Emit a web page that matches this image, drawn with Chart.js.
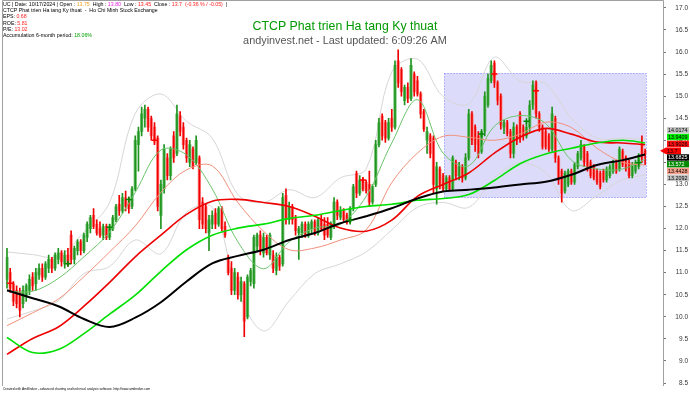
<!DOCTYPE html>
<html>
<head>
<meta charset="utf-8">
<script src="https://cdn.jsdelivr.net/npm/chart.js@4/dist/chart.umd.min.js"></script>
<style>
  html, body { margin: 0; padding: 0; background: #fff; }
  #chart { display: block; }
</style>
</head>
<body>
<canvas id="chart" width="690" height="393"></canvas>
<script>
// ---- DATOS ----
const opens = [
  10.85,11.0,10.75,10.6,10.55,10.3,10.45,10.6,10.9,10.75,
  10.95,11.1,10.9,11.1,11.3,11.1,11.3,11.45,11.2,11.4,
  11.85,11.3,11.5,11.7,11.5,11.8,12.0,12.3,12.1,12.0,
  11.85,12.05,11.8,12.0,12.2,12.55,12.4,12.7,12.6,12.5,
  12.9,13.9,14.2,14.5,14.7,14.5,14.3,14.05,12.3,12.9,
  13.6,13.2,14.1,13.7,14.55,14.3,14.0,13.5,13.8,13.5,
  13.6,12.6,12.5,11.9,12.1,12.35,12.1,12.45,12.05,11.35,
  11.1,10.6,10.9,10.5,10.75,10.0,10.8,10.75,11.6,11.85,
  11.45,11.8,11.4,11.4,11.05,11.35,11.2,12.75,12.2,12.5,
  12.25,11.9,11.9,12.1,11.85,12.0,12.15,11.9,12.2,12.1,
  12.1,11.8,12.05,12.6,12.25,12.4,12.3,12.15,12.45,13.25,
  12.8,13.1,13.05,13.0,12.6,13.0,13.9,14.55,14.4,14.05,
  14.5,14.3,15.8,15.6,14.9,15.2,14.95,15.5,15.35,15.05,
  14.65,14.0,14.1,14.05,12.9,13.35,13.2,12.9,13.15,12.9,
  13.5,13.2,13.4,13.15,13.6,14.6,14.3,14.1,13.75,14.2,
  14.8,15.35,15.75,15.3,15.0,14.3,14.4,14.2,13.7,14.3,
  14.6,14.3,14.1,14.3,14.8,15.3,14.6,14.3,14.2,14.1,
  13.8,14.5,13.6,13.3,12.85,13.0,13.3,13.05,13.4,13.6,
  13.85,13.7,13.5,13.4,13.3,13.25,13.3,13.1,13.2,13.3,
  13.5,13.35,13.75,13.6,13.5,13.2,13.3,13.4,13.95,13.75
];
const highs = [
  11.55,11.1,10.8,10.7,10.65,10.7,10.75,10.95,11.0,11.1,
  11.2,11.2,11.25,11.4,11.35,11.45,11.55,11.5,11.5,11.55,
  11.95,11.6,11.75,11.75,11.9,12.15,12.3,12.45,12.2,12.15,
  12.1,12.1,12.1,12.3,12.55,12.75,12.8,12.85,12.7,12.95,
  14.1,14.3,14.75,14.8,14.75,14.55,14.4,14.1,13.1,13.9,
  13.7,13.85,14.2,14.8,14.65,14.4,14.05,14.0,13.85,14.1,
  13.65,12.7,12.55,12.3,12.4,12.45,12.5,12.5,12.15,11.4,
  11.25,11.1,11.0,10.9,10.8,10.95,11.1,11.85,11.9,11.95,
  11.9,11.85,11.9,11.5,11.45,11.4,12.8,12.9,12.6,12.55,
  12.3,12.05,12.15,12.15,12.15,12.2,12.2,12.25,12.3,12.25,
  12.25,12.15,12.7,12.65,12.5,12.45,12.35,12.5,13.0,13.3,
  13.2,13.15,13.1,13.3,13.0,14.0,14.5,14.6,14.45,14.5,
  14.7,15.8,16.05,15.65,15.25,15.3,15.85,15.55,15.45,15.1,
  14.7,14.3,14.15,14.1,13.5,13.4,13.25,13.2,13.2,13.65,
  13.55,13.5,13.45,13.7,14.7,14.65,14.35,14.2,14.25,15.1,
  15.5,15.8,15.8,15.35,15.05,14.45,14.45,14.25,14.4,14.35,
  14.65,14.35,14.4,14.9,15.35,15.35,14.65,14.35,14.25,14.15,
  14.75,14.55,13.65,13.35,13.3,13.35,13.35,13.5,13.75,14.0,
  13.9,13.75,13.55,13.45,13.35,13.3,13.35,13.4,13.45,13.55,
  13.55,13.85,13.8,13.65,13.55,13.5,13.55,13.7,14.1,13.8
];
const lows = [
  10.65,10.55,10.25,10.2,10.0,10.2,10.35,10.5,10.6,10.6,
  10.85,10.8,10.85,11.0,11.0,11.05,11.2,11.15,11.1,11.15,
  11.2,11.2,11.4,11.4,11.45,11.7,11.9,12.0,11.85,11.8,
  11.75,11.75,11.75,11.95,12.15,12.3,12.35,12.4,12.35,12.45,
  12.85,13.3,14.1,14.3,14.2,14.0,13.9,12.4,12.0,12.8,
  13.1,13.1,13.5,13.65,14.1,13.8,13.5,13.4,13.35,13.45,
  12.0,12.0,11.9,11.5,12.0,12.0,12.05,11.95,11.8,10.95,
  10.5,10.5,10.4,10.35,9.55,9.95,10.7,10.65,11.5,11.4,
  11.35,11.4,11.3,11.0,10.95,11.05,11.15,12.1,12.1,12.1,
  11.85,11.3,11.8,11.8,11.8,11.9,11.85,11.85,11.95,11.75,
  11.8,11.75,12.0,12.2,12.2,12.15,12.1,12.1,12.4,12.7,
  12.75,12.85,12.8,12.5,12.55,12.95,13.85,14.0,13.95,14.0,
  14.2,14.25,15.2,15.0,14.8,14.85,14.9,15.0,15.0,14.5,
  14.2,13.7,13.6,12.8,12.55,12.9,12.85,12.85,12.85,12.85,
  13.1,13.1,13.05,13.1,13.55,13.9,13.75,13.6,13.7,14.1,
  14.75,15.3,15.2,14.8,14.25,14.15,14.1,13.6,13.6,13.9,
  13.95,14.0,14.05,14.2,14.7,14.5,14.2,13.8,13.8,13.75,
  13.75,13.5,13.0,12.6,12.8,12.95,13.0,13.0,13.35,13.55,
  13.4,13.3,13.15,13.1,13.0,12.9,13.05,13.05,13.15,13.25,
  13.25,13.3,13.4,13.3,13.15,13.15,13.25,13.35,13.5,13.45
];
const closes = [
  11.35,10.65,10.35,10.3,10.15,10.6,10.7,10.85,10.7,11.0,
  11.1,10.9,11.2,11.3,11.1,11.4,11.45,11.25,11.4,11.2,
  11.3,11.55,11.7,11.5,11.85,12.1,12.25,12.05,11.9,11.85,
  12.05,11.8,12.0,12.25,12.5,12.4,12.7,12.5,12.45,12.9,
  14.0,14.2,14.6,14.7,14.3,14.1,14.0,12.5,13.0,13.8,
  13.2,13.8,13.6,14.6,14.2,13.9,13.6,13.9,13.4,14.0,
  12.2,12.1,12.0,12.2,12.3,12.1,12.45,12.0,11.85,11.0,
  10.6,11.0,10.5,10.8,9.9,10.9,11.05,11.8,11.85,11.5,
  11.8,11.45,11.85,11.1,11.35,11.15,12.7,12.2,12.5,12.2,
  11.95,12.0,12.1,11.85,12.1,12.15,11.9,12.2,12.0,11.85,
  11.85,12.1,12.6,12.3,12.4,12.2,12.15,12.45,12.95,12.8,
  13.1,12.9,12.85,12.6,12.95,13.9,14.4,14.1,14.05,14.4,
  14.3,15.7,15.3,15.1,15.2,14.95,15.7,15.1,15.05,14.6,
  14.25,14.2,13.7,13.0,13.4,13.0,12.9,13.15,12.9,13.6,
  13.2,13.4,13.15,13.6,14.6,14.0,13.9,13.7,14.2,15.0,
  15.4,15.7,15.3,14.9,14.35,14.4,14.15,13.7,14.3,14.0,
  14.05,14.1,14.3,14.8,15.25,14.6,14.3,13.85,13.85,13.8,
  14.6,13.6,13.1,12.8,13.25,13.3,13.05,13.45,13.7,13.9,
  13.5,13.35,13.2,13.15,13.05,12.95,13.1,13.35,13.4,13.5,
  13.3,13.8,13.45,13.35,13.2,13.45,13.5,13.65,13.6,13.7
];

// medias y bandas, leidas cada 8 sesiones
const lineIdx = [0,8,16,24,32,40,48,56,64,72,80,88,96,104,112,120,128,136,144,152,160,168,176,184,192,199];
const maBlack = [10.60,10.42,10.24,9.95,9.77,9.98,10.33,10.80,11.21,11.38,11.52,11.74,11.90,12.12,12.28,12.46,12.68,12.84,12.88,12.93,13.00,13.06,13.22,13.44,13.55,13.68];
const maLime  = [9.53,9.19,9.26,9.62,10.06,10.49,11.03,11.52,11.85,12.01,12.10,12.23,12.30,12.41,12.50,12.55,12.64,12.68,12.77,13.09,13.47,13.69,13.82,13.94,14.00,13.94];
const maRed   = [9.15,9.51,9.77,10.24,10.78,11.36,11.85,12.32,12.62,12.66,12.59,12.50,12.28,12.01,11.94,12.19,12.73,13.00,13.26,13.71,14.07,14.27,14.14,13.96,13.94,13.90];
const maSalmon= [9.80,10.09,10.40,10.91,11.47,12.06,12.82,13.33,13.42,12.59,11.94,11.52,11.56,11.74,11.97,13.04,13.71,14.09,14.07,14.00,14.14,14.41,14.29,13.82,13.50,13.44];
const maThin  = [10.58,10.58,10.87,11.36,11.92,12.82,13.78,13.67,12.90,11.70,11.09,11.70,12.01,12.10,12.73,13.94,14.92,13.71,13.42,14.32,14.56,14.38,13.55,13.35,13.35,13.57];
const bandUp  = [11.47,11.41,11.36,11.92,12.59,14.61,15.05,14.43,14.05,12.77,12.59,12.88,12.70,13.15,13.35,15.55,15.84,14.99,14.83,15.88,15.34,15.28,14.50,14.05,14.05,14.02];
const bandLow = [9.95,10.13,10.36,10.98,11.14,11.74,11.43,12.37,12.48,10.58,9.68,10.36,10.98,11.20,11.47,11.97,12.48,12.59,12.48,13.15,13.49,13.26,12.41,12.75,13.11,13.21];

// señales
const buyIdx = [19,32,38,107,148,162,197];
const buyPrice = [11.2,12.03,12.66,12.19,14.14,14.43,13.49];
const sellIdx = [1,46,111,152,165];
const sellPrice = [10.76,14.0,13.1,15.5,15.12];

// zona sombreada
const zoneBars = [136.4, 199.3];
const zonePrices = [12.70, 15.52];

// etiquetas del eje
const axisValues = [14.0174, 13.9409, 13.9026, 13.7, 13.6825, 13.572, 13.4428, 13.2092];
const axisText = ["14.0174", "13.9409", "13.9026", "13.7", "13.6825", "13.572", "13.4428", "13.2092"];

// ---- ESTILOS ----
const axisBg = ["#c4c4c4", "#00ee00", "#ff1010", "#ff0000", "#000000", "#008a00", "#f4a08a", "#c4c4c4"];
const axisFg = ["#000", "#000", "#000", "#000", "#fff", "#fff", "#000", "#000"];
const FONT = "'Liberation Sans', Arial, sans-serif";

const idx = closes.map((_, i) => i);
const up = idx.map(i => closes[i] >= opens[i]);
const pts = arr => lineIdx.map((x, k) => ({ x, y: arr[k] }));

function lineSet(arr, color, width, order) {
  return {
    type: "line", data: pts(arr), borderColor: color, borderWidth: width,
    pointRadius: 0, tension: 0.35, fill: false, order
  };
}

// fondo blanco + zona azul
const background = {
  id: "background",
  beforeDraw(chart) {
    const c = chart.ctx;
    c.save();
    c.fillStyle = "#fff";
    c.fillRect(0, 0, chart.width, chart.height);
    c.restore();
  },
  beforeDatasetsDraw(chart) {
    const c = chart.ctx, x = chart.scales.x, y = chart.scales.y;
    const x0 = x.getPixelForValue(zoneBars[0]), x1 = x.getPixelForValue(zoneBars[1]);
    const y0 = y.getPixelForValue(zonePrices[1]), y1 = y.getPixelForValue(zonePrices[0]);
    c.save();
    c.fillStyle = "#dcdcfa";
    c.fillRect(x0, y0, x1 - x0, y1 - y0);
    c.strokeStyle = "#7a7aff";
    c.lineWidth = 1;
    c.setLineDash([1, 2]);
    c.strokeRect(Math.round(x0) + 0.5, Math.round(y0) + 0.5, Math.round(x1 - x0), Math.round(y1 - y0));
    c.restore();
  }
};

function fitFont(c, text, width, base) {
  c.font = base + "px " + FONT;
  return base * width / c.measureText(text).width;
}

function drawParts(c, parts, x, y) {
  parts.forEach(p => {
    c.fillStyle = p[1];
    c.fillText(p[0], x, y);
    x += c.measureText(p[0]).width;
  });
}

// textos, marco y etiquetas del eje
const overlay = {
  id: "overlay",
  afterDraw(chart) {
    const c = chart.ctx, area = chart.chartArea, ys = chart.scales.y;
    c.save();

    // marco
    c.strokeStyle = "#a0a0a0";
    c.lineWidth = 1;
    c.beginPath();
    c.moveTo(2.5, 386); c.lineTo(2.5, 0.5); c.lineTo(area.right + 0.5, 0.5); c.lineTo(area.right + 0.5, 386);
    c.stroke();

    // titulo
    c.textAlign = "center";
    c.textBaseline = "middle";
    const t1 = "CTCP Phat trien Ha tang Ky thuat";
    c.font = fitFont(c, t1, 185, 14) + "px " + FONT;
    c.fillStyle = "#009a00";
    c.fillText(t1, 345, 26.5);
    const t2 = "andyinvest.net - Last updated: 6:09:26 AM";
    c.font = fitFont(c, t2, 204, 14) + "px " + FONT;
    c.fillStyle = "#555555";
    c.fillText(t2, 345, 40.5);

    // cabecera
    c.textAlign = "left";
    const l2 = "CTCP Phat trien Ha tang Ky thuat  -  Ho Chi Minh Stock Exchange";
    c.font = fitFont(c, l2, 155, 8) + "px " + FONT;
    drawParts(c, [["UC | Date: 10/17/2024 | Open : ", "#000"], ["13.75", "#f0a020"], ["  High : ", "#000"],
      ["13.80", "#e020e0"], ["  Low : ", "#000"], ["13.45", "#ff2020"], ["  Close : ", "#000"],
      ["13.7  (-0.36 % / -0.05)", "#ff2020"], ["  |", "#000"]], 3, 4.5);
    drawParts(c, [[l2, "#000"]], 3, 10.8);
    drawParts(c, [["EPS: ", "#000"], ["0.68", "#ff2020"]], 3, 17);
    drawParts(c, [["ROE: ", "#000"], ["5.81", "#ff2020"]], 3, 23.2);
    drawParts(c, [["P/E: ", "#000"], ["13.02", "#ff2020"]], 3, 29.4);
    drawParts(c, [["Accumulation 6-month period: ", "#000"], ["18.06%", "#00a000"]], 3, 35.6);

    // pie
    const f = "Created with AmiBroker - advanced charting and technical analysis software. http://www.amibroker.com";
    c.font = fitFont(c, f, 148, 6) + "px " + FONT;
    c.fillStyle = "#000";
    c.fillText(f, 3, 389);

    // etiquetas del eje (apiladas)
    const h = 6.8;
    const raw = axisValues.map(v => ys.getPixelForValue(v));
    const mean = raw.reduce((a, b) => a + b, 0) / raw.length;
    const top = mean - h * (raw.length - 1) / 2;
    c.font = fitFont(c, "14.0174", 19.5, 7) + "px " + FONT;
    axisValues.forEach((v, k) => {
      const yc = top + k * h;
      const x0 = k === 3 ? 666 : 667;
      c.fillStyle = axisBg[k];
      if (k === 3) {
        c.beginPath();
        c.moveTo(660, yc); c.lineTo(666, yc - h / 2); c.lineTo(681, yc - h / 2);
        c.lineTo(681, yc + h / 2); c.lineTo(666, yc + h / 2); c.closePath();
        c.fill();
      } else {
        c.fillRect(x0, yc - h / 2, 689 - x0, h - 0.4);
      }
      c.fillStyle = axisFg[k];
      c.fillText(axisText[k], x0 + 1, yc + 0.3);
    });
    c.restore();
  }
};

const context = document.getElementById("chart").getContext("2d");
const chart = new Chart(context, {
  type: "bar",
  data: {
    datasets: [
      { type: "line", showLine: false, data: sellIdx.map((x, k) => ({ x, y: sellPrice[k] })),
        pointStyle: "cross", pointRadius: 3, borderColor: "#ff0000", borderWidth: 1.5, order: 0 },
      { type: "line", showLine: false, data: buyIdx.map((x, k) => ({ x, y: buyPrice[k] })),
        pointStyle: "cross", pointRadius: 3, borderColor: "#008800", borderWidth: 1.5, order: 0 },
      lineSet(maBlack, "#000000", 2, 1),
      lineSet(maLime, "#00e000", 1.6, 1),
      lineSet(maRed, "#ee0000", 1.6, 1),
      lineSet(maSalmon, "#f0907a", 1, 1),
      lineSet(maThin, "#6cc46c", 1, 1),
      { data: idx.map(i => ({ x: i, y: [lows[i], highs[i]] })),
        backgroundColor: up.map(u => u ? "#1f941f" : "#f00000"),
        barThickness: 1, grouped: false, borderWidth: 0, order: 2 },
      { data: idx.map(i => ({ x: i, y: [Math.min(opens[i], closes[i]), Math.max(opens[i], closes[i])] })),
        backgroundColor: up.map(u => u ? "#72c472" : "#ff8a8a"),
        barThickness: 2.6, grouped: false, borderWidth: 0, order: 3 },
      lineSet(bandUp, "#d6d6d6", 1, 4),
      lineSet(bandLow, "#d6d6d6", 1, 4)
    ]
  },
  options: {
    responsive: false,
    animation: false,
    layout: { padding: { left: 2, top: 3, bottom: 10, right: 2 } },
    plugins: { legend: { display: false }, tooltip: { enabled: false } },
    scales: {
      x: { type: "linear", min: -0.465, max: 204.58, display: false, offset: false },
      y: {
        position: "right", min: 8.5, max: 17,
        afterFit(s) { s.width = 25; },
        ticks: { stepSize: 0.5, callback: v => v.toFixed(1), font: { size: 6.5, family: FONT },
                 color: "#333", crossAlign: "far", padding: 4 },
        grid: { drawOnChartArea: false, tickLength: 3, color: "#777" },
        border: { display: false }
      }
    }
  },
  plugins: [background, overlay]
});
</script>
</body>
</html>
